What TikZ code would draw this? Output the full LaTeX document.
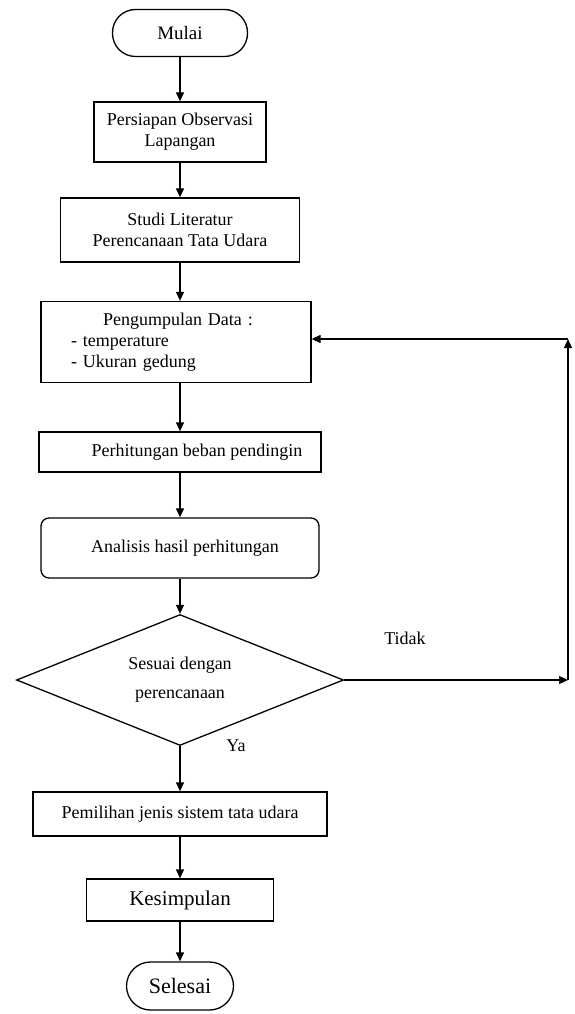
\documentclass[tikz,border=0pt]{standalone}
\usepackage{fontspec}
\setmainfont{Liberation Serif}
\usetikzlibrary{shapes.geometric, arrows.meta, positioning}

\begin{document}
\begin{tikzpicture}[x=1pt, y=-1pt,
  box/.style={draw, line width=1.3pt, align=center, inner sep=2pt, font=\fontsize{18}{21}\selectfont},
  term/.style={box, rounded corners=23pt},
  arrow/.style={-{Triangle[length=9pt,width=8pt]}, line width=1.3pt}
]
  \useasboundingbox (0,0) rectangle (574,1014);

  % Start
  \node[term, minimum width=135pt, minimum height=47pt, font=\fontsize{19}{22}\selectfont] (mulai) at (180,33) {Mulai};

  % Preparation and literature
  \node[box, minimum width=172pt, minimum height=60pt] (persiapan) at (180,132) {Persiapan Observasi\\Lapangan};
  \node[box, minimum width=239pt, minimum height=64pt] (studi) at (180,230) {Studi Literatur\\Perencanaan Tata Udara};

  % Data collection
  \node[box, minimum width=270pt, minimum height=81pt, text width=210pt, align=left, inner xsep=30pt] (kumpul) at (176,342)
    {\hspace*{32pt}Pengumpulan Data :\\- temperature\\- Ukuran gedung};

  % Calculation and analysis
  \node[box, minimum width=282pt, minimum height=40pt] (hitung) at (180,452) {\hspace*{34pt}Perhitungan beban pendingin};
  \node[box, rounded corners=8pt, minimum width=278pt, minimum height=60pt] (analisis) at (180,548) {\hspace*{10pt}Analisis hasil perhitungan};

  % Decision
  \node[box, diamond, aspect=2.5, inner sep=0pt, minimum width=327pt, minimum height=131pt] (sesuai) at (180,680)
    {Sesuai dengan\\[8pt]perencanaan};

  % Result
  \node[box, minimum width=294pt, minimum height=44pt] (pilih) at (180,814) {Pemilihan jenis sistem tata udara};
  \node[box, minimum width=187pt, minimum height=42pt, font=\fontsize{21}{24}\selectfont] (simpul) at (180,900) {Kesimpulan};

  % End
  \node[term, minimum width=107pt, minimum height=48pt, rounded corners=24pt, font=\fontsize{22}{25}\selectfont] (selesai) at (180,986) {Selesai};

  % Branch labels
  \node[font=\fontsize{18}{20}\selectfont] (tidak) at (405,638) {Tidak};
  \node[font=\fontsize{18}{20}\selectfont] (ya) at (236,746) {Ya};

  % Main flow
  \draw[arrow] (mulai) -- (persiapan);
  \draw[arrow] (persiapan) -- (studi);
  \draw[arrow] (studi.south) -- (studi.south |- kumpul.north);
  \draw[arrow] (hitung.north |- kumpul.south) -- (hitung);
  \draw[arrow] (hitung) -- (analisis);
  \draw[arrow] (analisis) -- (sesuai);
  \draw[arrow] (sesuai) -- (pilih);
  \draw[arrow] (pilih) -- (simpul);
  \draw[arrow] (simpul) -- (selesai);

  % Loop back
  \coordinate (kanan) at (568,680);
  \coordinate (atas) at (568,339);
  \draw[arrow] (sesuai.east) -- (kanan);
  \draw[arrow] (kanan) -- (atas);
  \draw[arrow] (atas) -- (kumpul.east |- atas);
\end{tikzpicture}
\end{document}
